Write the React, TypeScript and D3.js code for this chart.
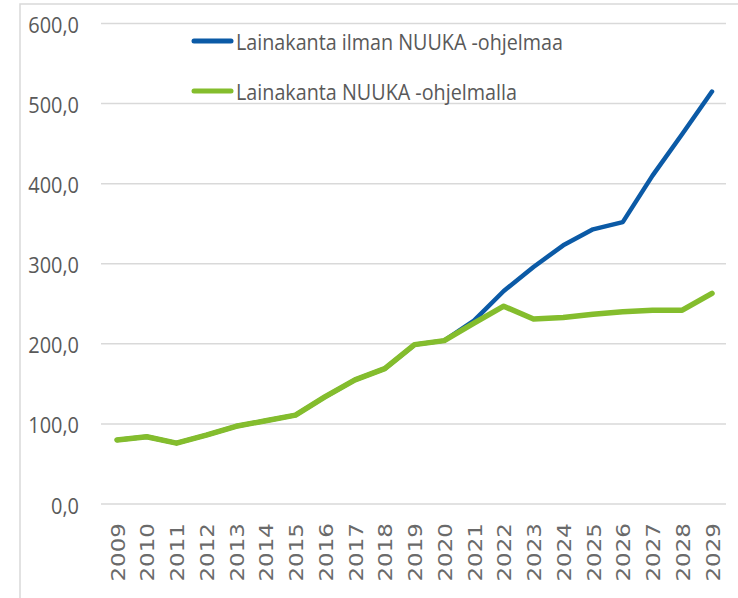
import { useRef, useEffect } from 'react'
import * as d3 from 'd3'

const years = ['2009', '2010', '2011', '2012', '2013', '2014', '2015', '2016', '2017', '2018', '2019',
  '2020', '2021', '2022', '2023', '2024', '2025', '2026', '2027', '2028', '2029']

const withoutNuuka = [80, 84, 76, 86, 97, 104, 111, 134, 155, 169, 199,
  204, 229, 266, 296, 323, 343, 352, 410, 462, 515]

const withNuuka = [80, 84, 76, 86, 97, 104, 111, 134, 155, 169, 199,
  204, 226, 247, 231, 233, 237, 240, 242, 242, 263]

const yTicks = [0, 100, 200, 300, 400, 500, 600]

const seriesNames = ['Lainakanta ilman NUUKA -ohjelmaa', 'Lainakanta NUUKA -ohjelmalla']
const seriesColors = ['#0b5aa6', '#84bd2d']

const App = () => {
  const ref = useRef<SVGSVGElement>(null)

  useEffect(() => {
    const svg = d3.select(ref.current)
    svg.selectAll('*').remove()

    const width = 738, height = 598

    const x = d3.scalePoint<string>()
      .domain(years)
      .range([117, 712])

    const y = d3.scaleLinear()
      .domain([0, 600])
      .range([504, 23.5])

    // FRAME
    svg.append('path')
      .attr('d', `M20,${height}V4H${width}`)
      .attr('fill', 'none')
      .attr('stroke', '#d9d9d9')
      .attr('stroke-width', 1.5)

    // GRIDLINES
    svg.append('g')
      .selectAll('line')
      .data(yTicks)
      .enter()
      .append('line')
        .attr('x1', 101)
        .attr('x2', 726)
        .attr('y1', d => y(d))
        .attr('y2', d => y(d))
        .attr('stroke', '#d9d9d9')
        .attr('stroke-width', 1.5)

    // Y LABELS
    svg.append('g')
      .selectAll('text')
      .data(yTicks)
      .enter()
      .append('text')
        .attr('transform', d => `translate(79, ${y(d) + 9.5}) scale(0.95, 1)`)
        .attr('text-anchor', 'end')
        .attr('font-family', 'Open Sans')
        .attr('font-size', 21)
        .attr('fill', '#595959')
        .text(d => d3.format('.1f')(d).replace('.', ','))

    // X LABELS
    svg.append('g')
      .selectAll('text')
      .data(years)
      .enter()
      .append('text')
        .attr('transform', d => `translate(${x(d)! + 7.5}, 523) scale(0.88, 1) rotate(-90)`)
        .attr('text-anchor', 'end')
        .attr('font-family', 'DejaVu Sans')
        .attr('font-size', 23)
        .attr('fill', '#6a6a6a')
        .text(d => d)

    // LINES
    const line = d3.line<number>()
      .x((d, i) => x(years[i])!)
      .y(d => y(d))

    const series = [withoutNuuka, withNuuka]
    series.forEach((s, i) => {
      svg.append('path')
        .datum(s)
        .attr('d', line)
        .attr('fill', 'none')
        .attr('stroke', seriesColors[i])
        .attr('stroke-width', i === 0 ? 4.5 : 5.5)
        .attr('stroke-linejoin', 'round')
        .attr('stroke-linecap', 'round')
    })

    // LEGEND
    const legendY = [41, 91]
    const legendLengths = [327, 281]
    const legend = svg.append('g')
    seriesNames.forEach((name, i) => {
      legend.append('line')
        .attr('x1', 194)
        .attr('x2', 231)
        .attr('y1', legendY[i])
        .attr('y2', legendY[i])
        .attr('stroke', seriesColors[i])
        .attr('stroke-width', 5)
        .attr('stroke-linecap', 'round')
      legend.append('text')
        .attr('x', 236)
        .attr('y', legendY[i] + 8.5)
        .attr('font-family', 'Open Sans')
        .attr('font-size', 21)
        .attr('fill', '#595959')
        .attr('textLength', legendLengths[i])
        .attr('lengthAdjust', 'spacingAndGlyphs')
        .text(name)
    })
  }, [])

  return (
    <svg ref={ref} width={738} height={598}
      style={{ position: 'absolute', left: 0, top: 0, background: '#fff' }} />
  )
}

export default App
